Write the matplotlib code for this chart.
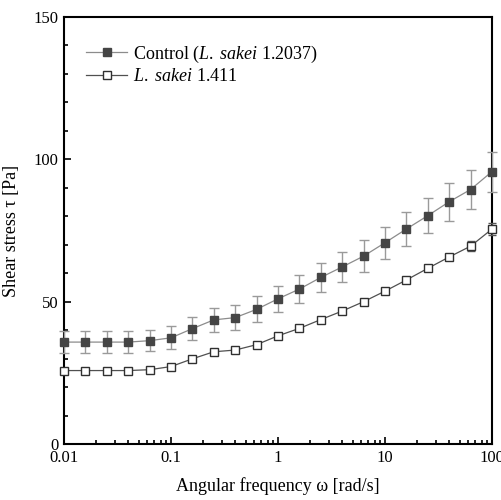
import matplotlib.pyplot as plt
from matplotlib.lines import Line2D
import numpy as np

plt.rcParams['font.family'] = 'Liberation Serif'
plt.rcParams['mathtext.fontset'] = 'custom'
plt.rcParams['mathtext.rm'] = 'Liberation Serif'
plt.rcParams['mathtext.it'] = 'Liberation Serif:italic'

# angular frequency, 5 points per decade
freq = [0.01, 0.0158, 0.0251, 0.0398, 0.0631, 0.1, 0.158, 0.251, 0.398, 0.631,
        1.0, 1.58, 2.51, 3.98, 6.31, 10, 15.8, 25.1, 39.8, 63.1, 100]

control = [35.8, 35.8, 35.8, 35.8, 36.3, 37.3, 40.5, 43.6, 44.4, 47.3,
           51.0, 54.4, 58.5, 62.2, 66.0, 70.7, 75.5, 80.2, 85.1, 89.4, 95.7]
control_err = [3.8, 3.8, 3.8, 3.8, 3.8, 4.0, 4.0, 4.3, 4.4, 4.6,
               4.6, 4.8, 5.1, 5.2, 5.6, 5.7, 6.1, 6.1, 6.6, 7.0, 7.0]

sakei = [25.8, 25.8, 25.8, 25.8, 26.1, 27.2, 29.9, 32.4, 33.0, 34.9,
         38.0, 40.6, 43.7, 46.7, 50.0, 53.7, 57.6, 61.7, 65.7, 69.5, 75.5]
sakei_err = [0.8, 0.8, 0.8, 0.8, 0.8, 0.8, 0.8, 0.8, 0.8, 0.8,
             0.8, 0.8, 0.8, 0.8, 0.8, 0.8, 0.9, 1.0, 1.2, 1.8, 2.0]

labels = [r'Control ($\mathit{L.\ sakei}$ 1.2037)', r'$\mathit{L.\ sakei}$ 1.411']

fig = plt.figure(figsize=(5.02, 5.0), dpi=100)
ax = fig.add_axes([64 / 502, 56 / 500, 428 / 502, 427 / 500])

ctrl_style = dict(color='#8c8c8c', lw=0.9, marker='s', ms=6,
                  mfc='#454545', mec='#454545')
sak_style = dict(color='#505050', lw=0.9, marker='s', ms=6,
                 mfc='white', mec='#303030', mew=1.0)

ax.errorbar(freq, control, yerr=control_err, ecolor='#9a9a9a', elinewidth=1.0,
            capsize=3.5, capthick=1.0, clip_on=False, zorder=3, **ctrl_style)
ax.errorbar(freq, sakei, yerr=sakei_err, ecolor='#555555', elinewidth=0.9,
            capsize=3, capthick=0.9, clip_on=False, zorder=3, **sak_style)

ax.set_xscale('log')
ax.set_xlim(0.01, 100)
ax.set_ylim(0, 150)
ax.set_xticks([0.01, 0.1, 1, 10, 100])
ax.set_xticklabels(['0.01', '0.1', '1', '10', '100'])
ax.set_yticks([0, 50, 100, 150])
ax.set_yticks(np.arange(0, 151, 10), minor=True)

ax.tick_params(which='both', direction='in', labelsize=12, width=1.2, pad=4)
ax.tick_params(which='major', length=5)
ax.tick_params(which='minor', length=3)
ax.tick_params(top=False, right=False, which='both')
for s in ax.spines.values():
    s.set_linewidth(1.5)

ax.set_xlabel('Angular frequency ω [rad/s]', fontsize=13, labelpad=8)
ax.set_ylabel('Shear stress τ [Pa]', fontsize=13, labelpad=10)

handles = [Line2D([], [], **ctrl_style), Line2D([], [], **sak_style)]
ax.legend(handles, labels, loc='upper left', bbox_to_anchor=(0.035, 0.955),
          frameon=False, fontsize=13, handlelength=2.25, handletextpad=0.35,
          labelspacing=0.2, borderaxespad=0)

fig.savefig('out.png', dpi=100)
